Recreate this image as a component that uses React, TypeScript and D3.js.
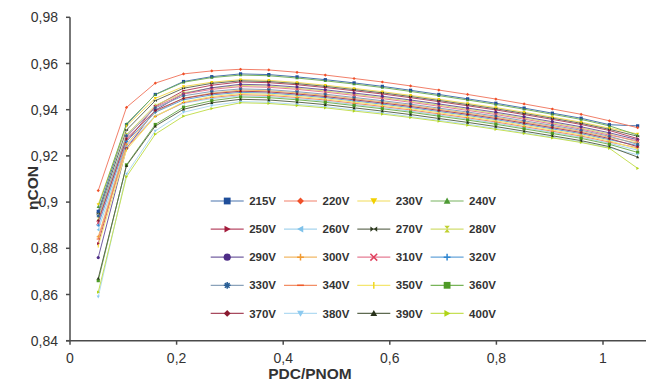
import React from "react";
import * as d3 from "d3";

const xValues = [0.053, 0.106, 0.16, 0.213, 0.266, 0.32, 0.373, 0.426, 0.479, 0.533, 0.586, 0.639, 0.692, 0.746, 0.799, 0.852, 0.905, 0.959, 1.012, 1.065];

const v215 = [0.896, 0.9335, 0.9466, 0.9522, 0.9543, 0.9555, 0.9552, 0.9542, 0.953, 0.9516, 0.9501, 0.9484, 0.9466, 0.9447, 0.9428, 0.9407, 0.9385, 0.9363, 0.9335, 0.933];
const v220 = [0.905, 0.941, 0.9515, 0.9555, 0.9568, 0.9575, 0.9572, 0.9562, 0.955, 0.9535, 0.952, 0.9503, 0.9485, 0.9466, 0.9446, 0.9425, 0.9403, 0.938, 0.9352, 0.9322];
const v230 = [0.899, 0.933, 0.9449, 0.95, 0.9519, 0.953, 0.9527, 0.9518, 0.9506, 0.9492, 0.9478, 0.9462, 0.9445, 0.9427, 0.9409, 0.9389, 0.9368, 0.9346, 0.932, 0.9295];
const v240 = [0.898, 0.9339, 0.9465, 0.9519, 0.9539, 0.955, 0.9547, 0.9537, 0.9525, 0.9511, 0.9496, 0.9479, 0.9461, 0.9442, 0.9423, 0.9402, 0.938, 0.9358, 0.933, 0.929];
const v250 = [0.882, 0.9261, 0.9415, 0.9482, 0.9506, 0.952, 0.9517, 0.9508, 0.9496, 0.9482, 0.9468, 0.9452, 0.9435, 0.9417, 0.9399, 0.9379, 0.9358, 0.9336, 0.931, 0.9275];
const v260 = [0.888, 0.9245, 0.9373, 0.9428, 0.9448, 0.946, 0.9457, 0.9448, 0.9437, 0.9423, 0.9409, 0.9394, 0.9377, 0.936, 0.9342, 0.9322, 0.9302, 0.9281, 0.9255, 0.9225];
const v270 = [0.895, 0.9312, 0.9439, 0.9493, 0.9514, 0.9525, 0.9522, 0.9513, 0.9501, 0.9487, 0.9473, 0.9457, 0.944, 0.9422, 0.9404, 0.9384, 0.9363, 0.9341, 0.9315, 0.9285];
const v280 = [0.893, 0.9292, 0.9419, 0.9473, 0.9494, 0.9505, 0.9502, 0.9493, 0.9481, 0.9467, 0.9453, 0.9437, 0.942, 0.9402, 0.9384, 0.9364, 0.9343, 0.9321, 0.9295, 0.926];
const v290 = [0.876, 0.9233, 0.9398, 0.9469, 0.9495, 0.951, 0.9507, 0.9498, 0.9486, 0.9472, 0.9458, 0.9442, 0.9425, 0.9407, 0.9389, 0.9369, 0.9348, 0.9326, 0.93, 0.927];
const v300 = [0.885, 0.925, 0.939, 0.945, 0.9472, 0.9485, 0.9482, 0.9473, 0.9462, 0.9448, 0.9434, 0.9419, 0.9402, 0.9385, 0.9367, 0.9347, 0.9327, 0.9306, 0.928, 0.9255];
const v310 = [0.891, 0.9282, 0.9412, 0.9468, 0.9488, 0.95, 0.9497, 0.9488, 0.9476, 0.9462, 0.9448, 0.9432, 0.9415, 0.9397, 0.9379, 0.9359, 0.9338, 0.9316, 0.929, 0.9265];
const v320 = [0.89, 0.9262, 0.9389, 0.9443, 0.9464, 0.9475, 0.9472, 0.9463, 0.9452, 0.9438, 0.9424, 0.9409, 0.9392, 0.9375, 0.9357, 0.9337, 0.9317, 0.9296, 0.927, 0.9245];
const v330 = [0.894, 0.9287, 0.9408, 0.946, 0.9479, 0.949, 0.9487, 0.9478, 0.9467, 0.9453, 0.9439, 0.9424, 0.9407, 0.939, 0.9372, 0.9352, 0.9332, 0.9311, 0.9285, 0.925];
const v340 = [0.884, 0.9234, 0.9371, 0.9431, 0.9453, 0.9465, 0.9462, 0.9453, 0.9442, 0.9428, 0.9414, 0.9399, 0.9382, 0.9365, 0.9347, 0.9327, 0.9307, 0.9286, 0.926, 0.9235];
const v350 = [0.881, 0.9226, 0.9371, 0.9434, 0.9457, 0.947, 0.9467, 0.9458, 0.9447, 0.9433, 0.9419, 0.9404, 0.9387, 0.937, 0.9352, 0.9332, 0.9312, 0.9291, 0.9265, 0.923];
const v360 = [0.866, 0.9161, 0.9336, 0.9411, 0.9439, 0.9455, 0.9452, 0.9443, 0.9432, 0.9418, 0.9404, 0.9389, 0.9372, 0.9355, 0.9337, 0.9317, 0.9297, 0.9276, 0.925, 0.9215];
const v370 = [0.892, 0.9273, 0.9396, 0.9449, 0.9469, 0.948, 0.9477, 0.9468, 0.9457, 0.9443, 0.9429, 0.9414, 0.9397, 0.938, 0.9362, 0.9342, 0.9322, 0.9301, 0.9275, 0.924];
const v380 = [0.859, 0.9122, 0.9308, 0.9389, 0.9418, 0.9435, 0.9432, 0.9423, 0.9413, 0.9399, 0.9386, 0.937, 0.9354, 0.9337, 0.9319, 0.93, 0.9281, 0.926, 0.9235, 0.9205];
const v390 = [0.867, 0.9158, 0.9329, 0.9402, 0.943, 0.9445, 0.9442, 0.9433, 0.9422, 0.9408, 0.9394, 0.9379, 0.9362, 0.9345, 0.9327, 0.9307, 0.9287, 0.9266, 0.924, 0.9195];
const v400 = [0.861, 0.911, 0.9294, 0.9372, 0.9405, 0.943, 0.9427, 0.9418, 0.9408, 0.9394, 0.9381, 0.9366, 0.935, 0.9333, 0.9315, 0.9297, 0.9278, 0.9258, 0.9233, 0.9146];

const seriesNames = ["215V", "220V", "230V", "240V", "250V", "260V", "270V", "280V", "290V", "300V", "310V", "320V", "330V", "340V", "350V", "360V", "370V", "380V", "390V", "400V"];
const seriesValues = [v215, v220, v230, v240, v250, v260, v270, v280, v290, v300, v310, v320, v330, v340, v350, v360, v370, v380, v390, v400];

const yTicks = [0.84, 0.86, 0.88, 0.9, 0.92, 0.94, 0.96, 0.98];
const xTicks = [0, 0.2, 0.4, 0.6, 0.8, 1];

// styles
const lineColors = ["#4a74ad", "#f2806a", "#f2dc58", "#78b460", "#b84a66", "#a6d4ee", "#68725c", "#d2de70", "#7460a2", "#f2b866", "#e67c94", "#66a4da", "#8aa2ba", "#f28e66", "#f4e670", "#78b458", "#a84a5e", "#b2dbf2", "#5e6a50", "#c6e056"];
const markColors = ["#1f4e9a", "#f05028", "#f2d000", "#4e9a34", "#a31c3c", "#7fc2ea", "#2e3a20", "#c0d030", "#4e2d87", "#f29a30", "#e0405e", "#2f86d0", "#2a5f96", "#f05a28", "#f0d820", "#4e9a26", "#8a1a30", "#8ccaf0", "#28321a", "#b0d418"];
const shapes = ["square", "diamond", "triDown", "triUp", "triRight", "triLeft", "bowtie", "hourglass", "circle", "plus", "x", "thinplus", "asterisk", "dash", "bar", "square", "diamond", "triDown", "triUp", "triRight"];

const W = 646;
const H = 381;

function shapePath(shape: string, r: number): { d: string; filled: boolean } {
  switch (shape) {
    case "square":
      return { d: `M${-r},${-r}h${2 * r}v${2 * r}h${-2 * r}Z`, filled: true };
    case "diamond":
      return { d: `M0,${-r}L${r},0L0,${r}L${-r},0Z`, filled: true };
    case "triDown":
      return { d: `M${-r},${-r * 0.8}L${r},${-r * 0.8}L0,${r}Z`, filled: true };
    case "triUp":
      return { d: `M0,${-r}L${r},${r * 0.8}L${-r},${r * 0.8}Z`, filled: true };
    case "triRight":
      return { d: `M${-r * 0.8},${-r}L${r},0L${-r * 0.8},${r}Z`, filled: true };
    case "triLeft":
      return { d: `M${r * 0.8},${-r}L${-r},0L${r * 0.8},${r}Z`, filled: true };
    case "bowtie":
      return { d: `M${-r},${-r * 0.8}L0,0L${-r},${r * 0.8}ZM${r},${-r * 0.8}L0,0L${r},${r * 0.8}Z`, filled: true };
    case "hourglass":
      return { d: `M${-r * 0.8},${-r}L${r * 0.8},${-r}L0,0ZM${-r * 0.8},${r}L${r * 0.8},${r}L0,0Z`, filled: true };
    case "circle":
      return { d: d3.symbol(d3.symbolCircle, Math.PI * r * r)() || "", filled: true };
    case "plus":
      return { d: `M${-r},0H${r}M0,${-r}V${r}`, filled: false };
    case "thinplus":
      return { d: `M${-r},0H${r}M0,${-r}V${r}`, filled: false };
    case "x":
      return { d: `M${-r},${-r}L${r},${r}M${-r},${r}L${r},${-r}`, filled: false };
    case "asterisk":
      return { d: `M${-r},0H${r}M${-r * 0.7},${-r * 0.7}L${r * 0.7},${r * 0.7}M${-r * 0.7},${r * 0.7}L${r * 0.7},${-r * 0.7}M0,${-r}V${r}`, filled: false };
    case "dash":
      return { d: `M${-r},0H${r}`, filled: false };
    case "bar":
      return { d: `M0,${-r}V${r}`, filled: false };
  }
  return { d: "", filled: true };
}

function Marker({ shape, r, color, x, y, sw }: { shape: string; r: number; color: string; x: number; y: number; sw: number }) {
  const p = shapePath(shape, r);
  return (
    <path
      transform={`translate(${x},${y})`}
      d={p.d}
      fill={p.filled ? color : "none"}
      stroke={p.filled ? "none" : color}
      strokeWidth={p.filled ? 0 : sw}
    />
  );
}

export default function App() {
  const x = d3.scaleLinear().domain([0, 1]).range([70, 603]);
  const y = d3.scaleLinear().domain([0.84, 0.98]).range([340.7, 17.3]);
  const fmt = (v: number) => String(v).replace(".", ",");
  const line = d3
    .line<number>()
    .x((_, i) => x(xValues[i]))
    .y((d) => y(d));

  const axisColor = "#4a4a4a";
  const font = "'Liberation Sans', Arial, sans-serif";

  return (
    <svg width={W} height={H} style={{ position: "absolute", left: 0, top: 0, background: "#fff" }}>
      <rect x={0} y={0} width={W} height={H} fill="#fff" />
      {/* series lines */}
      {seriesValues.map((vals, si) => (
        <path key={"l" + si} d={line(vals) || ""} fill="none" stroke={lineColors[si]} strokeWidth={1} />
      ))}
      {seriesValues.map((vals, si) => (
        <g key={"m" + si}>
          {vals.map((v, i) => (
            <Marker key={i} shape={shapes[si]} r={1.6} color={markColors[si]} x={x(xValues[i])} y={y(v)} sw={1} />
          ))}
        </g>
      ))}

      {/* axes */}
      <line x1={x(0)} x2={x(0)} y1={y(0.98)} y2={y(0.84)} stroke={axisColor} strokeWidth={1.5} />
      <line x1={66} x2={W} y1={y(0.84)} y2={y(0.84)} stroke={axisColor} strokeWidth={1.5} />
      {yTicks.map((t) => (
        <g key={"yt" + t}>
          <line x1={66} x2={x(0)} y1={y(t)} y2={y(t)} stroke={axisColor} strokeWidth={1.5} />
          <text x={58} y={y(t)} dy="0.36em" textAnchor="end" fontFamily={font} fontSize={14} fill="#333">
            {fmt(t)}
          </text>
        </g>
      ))}
      {xTicks.map((t) => (
        <g key={"xt" + t}>
          <line x1={x(t)} x2={x(t)} y1={y(0.84)} y2={y(0.84) + 4} stroke={axisColor} strokeWidth={1.5} />
          <text x={x(t)} y={363} textAnchor="middle" fontFamily={font} fontSize={14} fill="#333">
            {fmt(t)}
          </text>
        </g>
      ))}
      <text x={310} y={379} textAnchor="middle" fontFamily={font} fontWeight="bold" fontSize={15.5} fill="#333">
        PDC/PNOM
      </text>
      <text transform="translate(38,188) rotate(-90)" textAnchor="middle" fontFamily={font} fontWeight="bold" fontSize={15.5} fill="#333">
        ηCON
      </text>

      {/* legend */}
      {seriesNames.map((name, si) => {
        const col = si % 4;
        const row = Math.floor(si / 4);
        const lx = 210.7 + col * 73.3;
        const ly = 201 + row * 28.1;
        return (
          <g key={"lg" + si}>
            <line x1={lx} x2={lx + 33} y1={ly} y2={ly} stroke={lineColors[si]} strokeWidth={1.2} />
            <Marker shape={shapes[si]} r={shapes[si] === "circle" ? 3.6 : 3.4} color={markColors[si]} x={lx + 16.5} y={ly} sw={1.5} />
            <text x={lx + 38.5} y={ly} dy="0.36em" fontFamily={font} fontWeight="bold" fontSize={11.5} fill="#333">
              {name}
            </text>
          </g>
        );
      })}
    </svg>
  );
}
